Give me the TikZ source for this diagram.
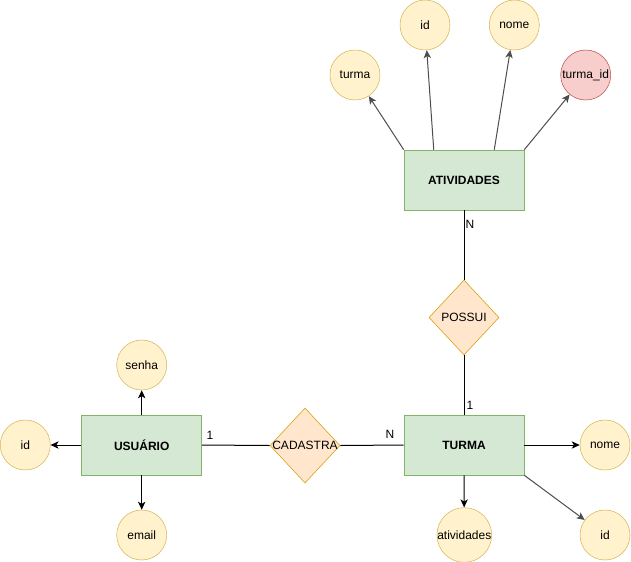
\documentclass[tikz,border=0pt]{standalone}
\usepackage{fontspec}
\setmainfont{Liberation Sans}
\usetikzlibrary{shapes.geometric,arrows.meta}
\definecolor{entfill}{HTML}{D5E8D4}
\definecolor{entline}{HTML}{82B366}
\definecolor{attfill}{HTML}{FFF2CC}
\definecolor{attline}{HTML}{D6B656}
\definecolor{fkfill}{HTML}{F8CECC}
\definecolor{fkline}{HTML}{B85450}
\definecolor{relfill}{HTML}{FFE6CC}
\definecolor{relline}{HTML}{D79B00}
\definecolor{darkline}{HTML}{4D4D4D}
\tikzset{
  entity/.style={rectangle, draw=entline, fill=entfill, minimum width=90pt, minimum height=45pt, inner sep=0pt, font=\fontsize{9}{11}\selectfont\bfseries},
  attr/.style={circle, draw=attline, fill=attfill, minimum size=37.5pt, inner sep=0pt, font=\fontsize{9}{11}\selectfont},
  fkattr/.style={attr, draw=fkline, fill=fkfill},
  rel/.style={diamond, draw=relline, fill=relfill, minimum width=52.5pt, minimum height=56.25pt, inner sep=0pt},
  reltext/.style={font=\fontsize{9}{11}\selectfont, inner sep=0pt},
  card/.style={font=\fontsize{9}{11}\selectfont, inner sep=0pt},
  link/.style={draw=black, line width=0.75pt},
  arr/.style={link, -{Stealth[length=6pt,width=5.5pt,inset=1.6pt]}},
  darr/.style={arr, draw=darkline},
}
\begin{document}
\begin{tikzpicture}[x=0.75pt,y=-0.75pt]
\useasboundingbox (0,0) rectangle (631,561);

% entities
\node[entity] (ativ) at (464,180) {ATIVIDADES};
\node[entity] (turma) at (464,445) {TURMA};
\node[entity] (user) at (141.7,445) {USUÁRIO};

% relationships
\node[rel] (possui) at (464,317.5) {};
\node[reltext] (possuitxt) at (possui) {POSSUI};
\node[rel] (cad) at (305,445.5) {};
\node[reltext] (cadtxt) at (cad) {CADASTRA};

% attributes of ATIVIDADES
\node[attr] (aturma) at (355,75) {turma};
\node[attr] (aid) at (425,25) {id};
\node[attr] (anome) at (514.3,25) {nome};
\node[fkattr] (aturmaid) at (585.7,75) {turma\_id};

% attributes of TURMA
\node[attr] (tnome) at (605,445) {nome};
\node[attr] (tid) at (605,535) {id};
\node[attr] (tativ) at (464.3,535) {atividades};

% attributes of USUARIO
\node[attr] (uid) at (25.3,445) {id};
\node[attr] (usenha) at (141.7,365) {senha};
\node[attr] (uemail) at (141.7,535) {email};

% anchor points on the top edge of ATIVIDADES
\coordinate (a1) at (ativ.north west);
\coordinate (a2) at ([xshift=22.5pt]ativ.north west);
\coordinate (a3) at ([xshift=-22.5pt]ativ.north east);
\coordinate (a4) at (ativ.north east);

\draw[darr] (a1) -- (aturma);
\draw[darr] (a2) -- (aid);
\draw[darr] (a3) -- (anome);
\draw[darr] (a4) -- (aturmaid);

% relationship links
\draw[link] (ativ.south) -- (possui.north);
\draw[link] (possui.south) -- (turma.north);
\draw[link] (user.east) -- (cad.west);
\draw[link] (cad.east) -- (turma.west);

% cardinalities
\node[card] (cn1) at (470,224) {N};
\node[card] (c11) at (470,405) {1};
\node[card] (c12) at (210,435) {1};
\node[card] (cn2) at (390,434.5) {N};

% TURMA attribute arrows
\draw[arr] (turma.east) -- (tnome);
\draw[arr] (turma.south) -- (tativ);
\draw[darr] (turma.south east) -- (tid);

% USUARIO attribute arrows
\draw[arr] (user.west) -- (uid);
\draw[arr] (user.north) -- (usenha);
\draw[arr] (user.south) -- (uemail);
\end{tikzpicture}
\end{document}
